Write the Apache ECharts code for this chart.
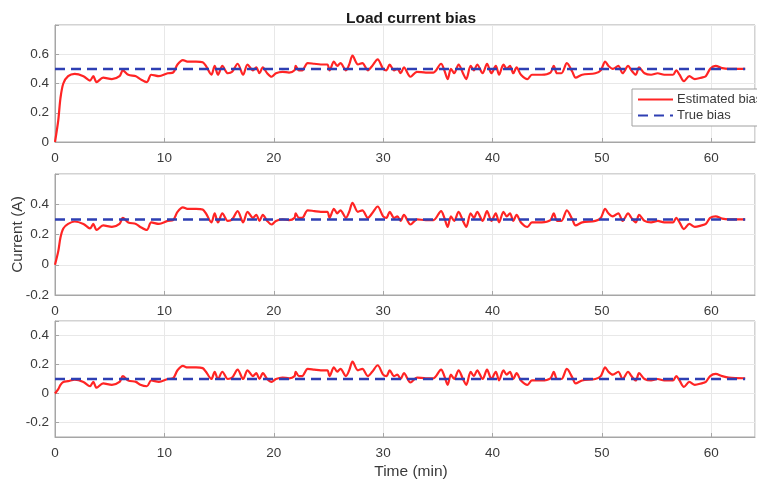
<!DOCTYPE html>
<html>
<head>
<meta charset="utf-8">
<script src="https://cdn.jsdelivr.net/npm/echarts@6/dist/echarts.min.js"></script>
<style>html,body{margin:0;padding:0;background:#fff}#c{width:757px;height:482px}</style>
</head>
<body>
<div id="c"></div>
<script>
var titleText = 'Load current bias';
var xName = 'Time (min)';
var yName = 'Current (A)';
var legendNames = ['Estimated bias', 'True bias'];

var xTicks = [0, 10, 20, 30, 40, 50, 60];
var yTicks1 = [0, 0.2, 0.4, 0.6];
var yTicks2 = [-0.2, 0, 0.2, 0.4];
var yTicks3 = [-0.2, 0, 0.2, 0.4];

var time = [0,0.3,0.5,0.76,1.2,1.8,2.6,3.2,3.5,3.8,4.4,5.2,5.9,6.2,6.7,7.4,7.8,8.4,8.8,9.5,10.3,10.8,11.2,11.7,12.1,12.9,13.5,13.8,14.3,14.6,14.9,15.3,15.8,16.2,16.7,17.2,17.6,18.1,18.4,18.7,19.0,19.4,19.8,20.2,20.8,21.4,21.9,22.0,22.3,22.6,23.1,23.7,24.3,24.9,25.1,25.5,25.8,26.1,26.6,26.9,27.2,27.7,28.1,28.6,29.0,29.5,30.0,30.3,30.6,31.0,31.3,31.6,31.9,32.5,33.1,33.9,34.6,35.3,35.6,35.9,36.2,36.5,36.9,37.3,37.6,38.0,38.3,38.6,39.1,39.5,39.9,40.3,40.6,41.0,41.3,41.6,41.9,42.2,42.6,43.2,43.6,44.5,45.3,45.6,45.9,46.3,46.8,47.3,47.6,48.2,49.4,49.9,50.3,50.6,51.0,51.5,51.9,52.4,52.7,53.1,53.4,53.9,54.5,55.1,55.7,56.5,56.8,57.1,57.5,58.0,58.5,59.1,59.5,59.9,60.4,61.0,61.6,63.1];

var est1 = [0,0.15,0.30,0.40,0.45,0.466,0.45,0.42,0.45,0.41,0.44,0.43,0.45,0.49,0.46,0.45,0.43,0.41,0.46,0.45,0.47,0.475,0.53,0.56,0.55,0.55,0.545,0.52,0.46,0.52,0.46,0.52,0.47,0.48,0.535,0.46,0.53,0.49,0.51,0.47,0.51,0.47,0.446,0.47,0.48,0.475,0.49,0.52,0.49,0.49,0.54,0.535,0.53,0.53,0.49,0.55,0.52,0.54,0.49,0.53,0.59,0.53,0.54,0.49,0.52,0.565,0.50,0.49,0.53,0.49,0.50,0.47,0.51,0.446,0.48,0.475,0.475,0.535,0.49,0.43,0.50,0.47,0.53,0.47,0.43,0.52,0.49,0.53,0.47,0.535,0.47,0.52,0.46,0.53,0.50,0.52,0.47,0.51,0.46,0.43,0.46,0.46,0.475,0.52,0.47,0.47,0.54,0.48,0.44,0.46,0.47,0.49,0.55,0.52,0.50,0.52,0.47,0.52,0.49,0.46,0.51,0.47,0.46,0.47,0.46,0.46,0.49,0.46,0.416,0.45,0.43,0.44,0.45,0.50,0.52,0.505,0.50,0.50];

var est2 = [0,0.09,0.18,0.24,0.27,0.286,0.27,0.24,0.27,0.23,0.26,0.25,0.27,0.31,0.28,0.27,0.25,0.23,0.28,0.27,0.29,0.295,0.35,0.38,0.37,0.37,0.365,0.34,0.28,0.34,0.28,0.34,0.29,0.30,0.355,0.28,0.35,0.31,0.33,0.29,0.33,0.29,0.266,0.29,0.30,0.295,0.31,0.34,0.31,0.31,0.36,0.355,0.35,0.35,0.31,0.37,0.34,0.36,0.31,0.35,0.41,0.35,0.36,0.31,0.34,0.385,0.32,0.31,0.35,0.31,0.32,0.29,0.33,0.266,0.30,0.295,0.295,0.355,0.31,0.25,0.32,0.29,0.35,0.29,0.25,0.34,0.31,0.35,0.29,0.355,0.29,0.34,0.28,0.35,0.32,0.34,0.29,0.33,0.28,0.25,0.28,0.28,0.295,0.34,0.29,0.29,0.36,0.30,0.26,0.28,0.29,0.31,0.37,0.34,0.32,0.34,0.29,0.34,0.31,0.28,0.33,0.29,0.28,0.29,0.28,0.28,0.31,0.28,0.236,0.27,0.25,0.26,0.27,0.31,0.32,0.305,0.30,0.30];

var est3 = [0,0.03,0.06,0.08,0.085,0.096,0.08,0.05,0.08,0.04,0.07,0.06,0.08,0.12,0.09,0.08,0.06,0.05,0.09,0.08,0.10,0.105,0.16,0.19,0.18,0.18,0.175,0.15,0.10,0.15,0.10,0.15,0.10,0.11,0.165,0.10,0.16,0.12,0.14,0.10,0.14,0.10,0.08,0.10,0.11,0.105,0.12,0.15,0.12,0.12,0.17,0.165,0.16,0.16,0.12,0.18,0.15,0.17,0.12,0.16,0.22,0.16,0.17,0.12,0.15,0.195,0.13,0.12,0.16,0.12,0.13,0.10,0.14,0.076,0.11,0.105,0.105,0.165,0.12,0.06,0.13,0.10,0.16,0.10,0.06,0.15,0.12,0.16,0.10,0.165,0.10,0.15,0.09,0.16,0.13,0.15,0.10,0.14,0.09,0.06,0.09,0.09,0.105,0.15,0.10,0.10,0.17,0.11,0.07,0.09,0.10,0.12,0.18,0.15,0.13,0.15,0.10,0.15,0.12,0.09,0.14,0.10,0.09,0.10,0.09,0.09,0.12,0.09,0.046,0.08,0.06,0.07,0.08,0.12,0.135,0.12,0.11,0.105];

var trueTime = [0, 63.1];
var true1 = [0.5, 0.5];
var true2 = [0.3, 0.3];
var true3 = [0.1, 0.1];

function pairs(xs, ys) { return xs.map(function (x, i) { return [x, ys[i]]; }); }

var FONT = 'Liberation Sans, Arial, sans-serif';
var TXT = '#3a3a3a';
var AXC = '#a6a6a6';
var RED = '#ff2424';
var BLUE = '#2e3fb3';

var grids = [
  { left: 55, right: 2, top: 25, height: 117 },
  { left: 55, right: 2, top: 174, height: 121 },
  { left: 55, right: 2, top: 321, height: 116 }
];
grids.forEach(function (g) {
  g.show = true; g.borderColor = AXC; g.borderWidth = 1; g.backgroundColor = '#fff';
  g.containLabel = false; g.outerBoundsMode = 'none';
});

function labelIn(list) {
  return function (v) {
    for (var i = 0; i < list.length; i++) if (Math.abs(list[i] - v) < 1e-6) return String(list[i]);
    return '';
  };
}

function xAxis(i) {
  var a = {
    type: 'value', gridIndex: i, min: 0, max: 64, interval: 10,
    axisLine: { show: true, onZero: false, lineStyle: { color: AXC } },
    axisTick: { show: true, inside: true, length: 4, lineStyle: { color: AXC } },
    axisLabel: { color: TXT, fontFamily: FONT, fontSize: 13.5, margin: 9, formatter: labelIn(xTicks), showMaxLabel: false },
    splitLine: { show: true, lineStyle: { color: '#e8e8e8', width: 1 } }
  };
  if (i === 2) {
    a.name = xName; a.nameLocation = 'middle'; a.nameGap = 27; a.nameMoveOverlap = false;
    a.nameTextStyle = { color: TXT, fontFamily: FONT, fontSize: 15.5, padding: [0, 0, 0, 12] };
  }
  return a;
}

function yAxis(i, min, max, ticks, interval) {
  var a = {
    type: 'value', gridIndex: i, min: min, max: max,
    axisLine: { show: true, lineStyle: { color: AXC } },
    axisTick: { show: true, inside: true, length: 4, lineStyle: { color: AXC } },
    axisLabel: { color: TXT, fontFamily: FONT, fontSize: 13.5, margin: 6, formatter: labelIn(ticks) },
    splitLine: { show: true, lineStyle: { color: '#e8e8e8', width: 1 } }
  };
  if (interval) a.interval = interval; else a.splitNumber = 4;
  if (i === 1) {
    a.name = yName; a.nameLocation = 'middle'; a.nameGap = 29; a.nameMoveOverlap = false;
    a.nameTextStyle = { color: TXT, fontFamily: FONT, fontSize: 15.5 };
  }
  return a;
}

function estSeries(i, ys) {
  return { name: legendNames[0], type: 'line', xAxisIndex: i, yAxisIndex: i, data: pairs(time, ys),
    showSymbol: false, symbol: 'none', smooth: 0.3, lineStyle: { color: RED, width: 2.2 }, itemStyle: { color: RED }, z: 3, animation: false };
}
function trueSeries(i, ys) {
  return { name: legendNames[1], type: 'line', xAxisIndex: i, yAxisIndex: i, data: pairs(trueTime, ys),
    showSymbol: false, symbol: 'none', lineStyle: { color: BLUE, width: 2.5, type: [10, 6] }, itemStyle: { color: BLUE }, z: 4, animation: false };
}

var chart = echarts.init(document.getElementById('c'), null, { renderer: 'canvas' });
chart.setOption({
  animation: false,
  backgroundColor: '#fff',
  title: { text: titleText, left: 406, top: 6, textAlign: 'center',
    textStyle: { fontFamily: FONT, fontSize: 15.5, fontWeight: 'bold', color: '#1a1a1a' } },
  legend: {
    data: legendNames, orient: 'vertical', left: 632, top: 89,
    backgroundColor: '#fff', borderColor: '#a0a0a0', borderWidth: 1,
    padding: [4, 6, 4, 5], itemGap: 3, itemWidth: 35, itemHeight: 14,
    itemStyle: { opacity: 0 },
    textStyle: { fontFamily: FONT, fontSize: 13, color: TXT, padding: [0, 0, 0, -1] }
  },
  grid: grids,
  xAxis: [xAxis(0), xAxis(1), xAxis(2)],
  yAxis: [yAxis(0, 0, 0.8, yTicks1, 0.2), yAxis(1, -0.2, 0.6, yTicks2, 0.2), yAxis(2, -0.3, 0.5, yTicks3, null)],
  series: [
    estSeries(0, est1), trueSeries(0, true1),
    estSeries(1, est2), trueSeries(1, true2),
    estSeries(2, est3), trueSeries(2, true3)
  ]
});
</script>
</body>
</html>
